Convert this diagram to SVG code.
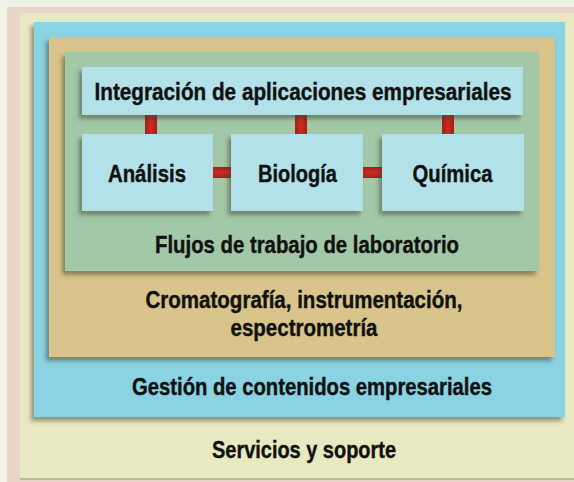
<svg xmlns="http://www.w3.org/2000/svg" width="574" height="482" viewBox="0 0 574 482">
  <defs>
    <filter id="sh" x="-10%" y="-10%" width="120%" height="125%">
      <feDropShadow dx="-3" dy="4" stdDeviation="2" flood-color="#3a3a2a" flood-opacity="0.5"/>
    </filter>
    <linearGradient id="redv" x1="0" y1="0" x2="1" y2="0">
      <stop offset="0" stop-color="#a81c16"/>
      <stop offset="0.5" stop-color="#cc2c22"/>
      <stop offset="1" stop-color="#a81c16"/>
    </linearGradient>
    <linearGradient id="redh" x1="0" y1="0" x2="0" y2="1">
      <stop offset="0" stop-color="#a81c16"/>
      <stop offset="0.5" stop-color="#cc2c22"/>
      <stop offset="1" stop-color="#a81c16"/>
    </linearGradient>
  </defs>
  <style>
    text { font-family: "Liberation Sans", Arial, sans-serif; font-weight: bold; font-size: 24px; fill: #111; stroke: #111; stroke-width: 0.4px; text-anchor: middle; }
    .box { filter: url(#sh); }
    .light { fill: #b3e1e9; }
  </style>
  <rect x="0" y="0" width="574" height="482" fill="#eef3e5"/>

  <g id="servicios">
    <rect x="7" y="7" width="567" height="475" fill="#e9d6c8"/>
    <rect x="20" y="13" width="554" height="467" fill="#e8e9c0"/>
    <rect x="20" y="478" width="554" height="2" fill="#b9b9a0"/>
    <text x="304" y="458" textLength="184" lengthAdjust="spacingAndGlyphs">Servicios y soporte</text>
  </g>

  <g id="gestion">
    <rect class="box" x="34" y="22" width="531" height="395" fill="#8ad3e3"/>
    <text x="312" y="395" textLength="360" lengthAdjust="spacingAndGlyphs">Gestión de contenidos empresariales</text>
  </g>

  <g id="cromatografia">
    <rect class="box" x="49" y="37" width="506" height="320" fill="#d9c58b"/>
    <text x="304" y="308" textLength="317" lengthAdjust="spacingAndGlyphs">Cromatografía, instrumentación,</text>
    <text x="304" y="336" textLength="147" lengthAdjust="spacingAndGlyphs">espectrometría</text>
  </g>

  <g id="flujos">
    <rect class="box" x="65" y="52" width="474" height="219" fill="#a3c8a8"/>
    <text x="307" y="253" textLength="304" lengthAdjust="spacingAndGlyphs">Flujos de trabajo de laboratorio</text>
  </g>

  <g id="connectors">
    <rect x="145" y="115" width="12" height="19" fill="url(#redv)"/>
    <rect x="295" y="115" width="12" height="19" fill="url(#redv)"/>
    <rect x="442" y="115" width="12" height="19" fill="url(#redv)"/>
    <rect x="213" y="167" width="18" height="11" fill="url(#redh)"/>
    <rect x="363" y="167" width="19" height="11" fill="url(#redh)"/>
  </g>

  <g id="integracion">
    <rect class="box light" x="82" y="67" width="441" height="48"/>
    <text x="303" y="100" textLength="417" lengthAdjust="spacingAndGlyphs">Integración de aplicaciones empresariales</text>
  </g>

  <g id="analisis">
    <rect class="box light" x="82" y="134" width="131" height="77"/>
    <text x="147" y="182" textLength="78" lengthAdjust="spacingAndGlyphs">Análisis</text>
  </g>

  <g id="biologia">
    <rect class="box light" x="231" y="134" width="132" height="77"/>
    <text x="297.5" y="182" textLength="79" lengthAdjust="spacingAndGlyphs">Biología</text>
  </g>

  <g id="quimica">
    <rect class="box light" x="382" y="134" width="142" height="77"/>
    <text x="452.5" y="182" textLength="80" lengthAdjust="spacingAndGlyphs">Química</text>
  </g>
</svg>
